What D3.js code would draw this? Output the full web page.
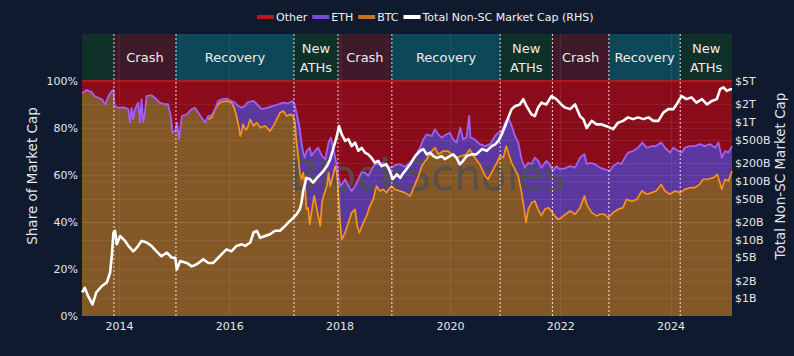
<!DOCTYPE html>
<html><head><meta charset="utf-8">
<script src="https://cdn.jsdelivr.net/npm/d3@7"></script>
<style>
html,body{margin:0;padding:0;background:#0f1a2e;}
svg{display:block;font-family:"DejaVu Sans",Verdana,sans-serif;}
</style></head><body>
<svg id="chart" width="794" height="356"></svg>
<script>
// ---------------- DATA ----------------
// BTC share of non-stablecoin market cap (%), decimal years
const btcYears = [2013.33,2013.41,2013.50,2013.57,2013.63,2013.69,2013.75,2013.81,2013.87,2013.90,2013.92,2013.99,2014.08,2014.17,2014.20,2014.23,2014.26,2014.29,2014.35,2014.38,2014.41,2014.44,2014.47,2014.50,2014.59,2014.65,2014.74,2014.83,2014.89,2014.94,2014.97,2015.02,2015.05,2015.09,2015.14,2015.23,2015.32,2015.38,2015.44,2015.50,2015.56,2015.62,2015.68,2015.74,2015.80,2015.86,2015.95,2016.04,2016.09,2016.13,2016.17,2016.20,2016.22,2016.25,2016.29,2016.32,2016.38,2016.44,2016.50,2016.56,2016.65,2016.74,2016.80,2016.86,2016.92,2016.98,2017.04,2017.10,2017.16,2017.19,2017.22,2017.25,2017.28,2017.31,2017.34,2017.37,2017.40,2017.43,2017.46,2017.49,2017.54,2017.59,2017.65,2017.68,2017.71,2017.77,2017.80,2017.83,2017.88,2017.92,2017.95,2017.98,2018.01,2018.04,2018.10,2018.16,2018.22,2018.28,2018.32,2018.36,2018.43,2018.49,2018.55,2018.61,2018.67,2018.73,2018.79,2018.85,2018.94,2019.00,2019.09,2019.18,2019.28,2019.37,2019.43,2019.49,2019.58,2019.67,2019.73,2019.79,2019.88,2019.97,2020.03,2020.12,2020.21,2020.30,2020.36,2020.45,2020.54,2020.64,2020.69,2020.79,2020.85,2020.91,2020.97,2021.02,2021.06,2021.12,2021.18,2021.24,2021.30,2021.34,2021.38,2021.42,2021.48,2021.54,2021.60,2021.66,2021.72,2021.78,2021.84,2021.90,2021.96,2022.02,2022.08,2022.18,2022.27,2022.36,2022.44,2022.48,2022.57,2022.66,2022.72,2022.80,2022.87,2022.96,2023.05,2023.14,2023.20,2023.30,2023.39,2023.48,2023.57,2023.66,2023.74,2023.83,2023.90,2023.99,2024.08,2024.17,2024.26,2024.35,2024.44,2024.53,2024.59,2024.68,2024.78,2024.85,2024.93,2024.99,2025.05,2025.115];
const btcShare = [94.8,96.2,95.4,93.3,92.9,92.2,90.1,93.6,95.7,96.2,89.4,88.6,88.8,88.0,82.3,88.6,83.7,88.0,90.8,82.3,92.2,82.3,86.5,93.6,94.0,92.9,90.8,90.1,90.1,85.1,78.0,78.7,82.3,75.2,85.1,85.8,88.0,88.6,86.5,84.4,82.3,83.7,84.4,87.7,90.1,91.1,91.5,90.8,88.6,85.1,80.9,76.6,78.0,81.6,79.4,79.4,83.7,80.9,82.3,80.1,80.9,78.7,80.9,83.7,86.5,87.2,85.1,85.8,85.1,82.3,73.8,68.1,61.0,58.2,61.0,56.7,45.4,46.0,39.0,44.0,51.1,45.4,38.3,48.2,51.1,55.3,61.0,55.3,59.6,63.8,61.0,51.1,39.7,32.6,35.4,39.7,44.0,45.4,38.3,35.4,39.7,42.6,46.8,49.6,55.3,53.2,53.9,52.5,55.3,53.9,53.2,52.5,51.1,56.0,59.6,63.8,66.7,70.2,71.6,68.8,70.2,70.2,68.8,67.4,68.1,68.8,70.9,67.4,64.6,59.6,58.2,62.4,65.2,68.1,67.4,72.3,69.5,65.2,62.4,59.6,52.5,46.8,39.7,45.4,48.2,48.9,45.4,42.6,45.4,46.1,44.7,42.6,41.1,41.8,43.0,44.7,43.3,46.1,51.1,47.5,44.0,42.6,43.3,43.3,41.8,44.0,45.4,46.1,49.6,48.9,49.6,53.2,51.8,52.5,53.2,56.0,53.2,51.8,53.2,52.5,53.9,54.6,54.6,56.0,58.2,58.2,58.9,60.3,53.9,58.2,57.4,61.7];

// BTC + ETH share (%), from ETH launch onwards
const topYears = [2015.62,2015.68,2015.74,2015.80,2015.86,2015.95,2016.04,2016.10,2016.16,2016.22,2016.29,2016.32,2016.44,2016.53,2016.59,2016.68,2016.80,2016.89,2016.98,2017.07,2017.15,2017.19,2017.23,2017.27,2017.31,2017.34,2017.37,2017.40,2017.46,2017.49,2017.55,2017.61,2017.68,2017.74,2017.80,2017.84,2017.89,2017.94,2017.98,2018.01,2018.04,2018.10,2018.16,2018.22,2018.28,2018.34,2018.40,2018.46,2018.52,2018.58,2018.64,2018.73,2018.79,2018.85,2018.94,2019.00,2019.09,2019.18,2019.28,2019.37,2019.46,2019.52,2019.58,2019.67,2019.73,2019.79,2019.85,2019.94,2020.00,2020.06,2020.12,2020.19,2020.24,2020.30,2020.35,2020.37,2020.45,2020.54,2020.64,2020.73,2020.82,2020.88,2020.94,2021.00,2021.06,2021.12,2021.18,2021.24,2021.30,2021.36,2021.42,2021.48,2021.54,2021.60,2021.66,2021.75,2021.81,2021.87,2021.93,2021.99,2022.08,2022.18,2022.27,2022.36,2022.44,2022.48,2022.54,2022.63,2022.72,2022.81,2022.90,2022.96,2023.05,2023.11,2023.17,2023.23,2023.32,2023.41,2023.49,2023.57,2023.66,2023.74,2023.83,2023.90,2023.99,2024.05,2024.14,2024.20,2024.26,2024.35,2024.44,2024.53,2024.62,2024.72,2024.81,2024.87,2024.93,2024.99,2025.05,2025.115];
const btcEthShare = [85.1,85.4,88.0,91.5,92.2,92.5,91.5,90.8,89.4,88.6,89.4,90.8,91.5,89.4,88.0,88.6,89.4,90.1,90.8,90.5,91.5,89.4,85.1,80.9,73.8,69.5,67.4,70.2,71.6,68.1,70.2,71.6,68.1,66.7,73.8,75.9,70.9,65.2,58.9,55.3,56.0,58.2,55.3,53.2,55.3,58.2,61.0,61.0,59.6,62.4,64.6,64.6,65.2,63.8,63.1,64.1,64.6,63.5,65.2,68.1,71.6,75.2,77.3,76.6,79.4,77.3,75.9,77.3,78.0,75.2,73.8,80.1,75.2,75.9,85.1,76.0,75.2,73.1,72.3,73.1,76.6,78.0,78.7,82.3,84.4,80.9,76.6,73.8,66.7,63.1,65.2,64.6,67.4,66.0,63.1,66.0,64.6,61.7,63.8,62.4,62.8,63.8,63.1,67.4,68.8,64.6,65.2,64.6,63.1,62.4,61.7,63.8,65.2,64.6,67.4,69.5,70.2,71.6,73.8,71.6,72.3,72.3,73.8,71.6,69.5,71.6,70.2,69.5,71.6,72.3,72.3,73.1,72.3,73.1,71.6,73.8,67.4,70.2,69.5,72.3];

// Total non-stablecoin market cap ($ billions)
const capYears = [2013.33,2013.38,2013.44,2013.52,2013.59,2013.69,2013.78,2013.84,2013.87,2013.90,2013.93,2013.96,2014.02,2014.11,2014.17,2014.26,2014.32,2014.41,2014.50,2014.59,2014.68,2014.77,2014.87,2014.96,2015.02,2015.05,2015.11,2015.23,2015.32,2015.41,2015.53,2015.62,2015.71,2015.80,2015.89,2015.95,2016.04,2016.13,2016.23,2016.29,2016.38,2016.44,2016.50,2016.56,2016.65,2016.74,2016.83,2016.92,2017.01,2017.07,2017.16,2017.22,2017.28,2017.31,2017.34,2017.37,2017.40,2017.46,2017.52,2017.59,2017.65,2017.71,2017.77,2017.83,2017.89,2017.95,2017.99,2018.04,2018.10,2018.16,2018.22,2018.28,2018.34,2018.40,2018.46,2018.52,2018.58,2018.64,2018.70,2018.76,2018.85,2018.91,2018.96,2019.04,2019.10,2019.16,2019.19,2019.28,2019.37,2019.46,2019.52,2019.58,2019.64,2019.70,2019.76,2019.85,2019.91,2020.00,2020.06,2020.12,2020.18,2020.24,2020.30,2020.39,2020.48,2020.58,2020.67,2020.76,2020.82,2020.88,2020.94,2021.00,2021.06,2021.12,2021.18,2021.27,2021.33,2021.39,2021.48,2021.54,2021.60,2021.66,2021.75,2021.84,2021.93,2022.02,2022.08,2022.18,2022.27,2022.36,2022.42,2022.48,2022.57,2022.66,2022.75,2022.84,2022.96,2023.05,2023.14,2023.23,2023.32,2023.41,2023.51,2023.60,2023.69,2023.78,2023.87,2023.96,2024.05,2024.11,2024.20,2024.29,2024.38,2024.47,2024.57,2024.66,2024.75,2024.84,2024.90,2024.96,2025.02,2025.09,2025.115];
const capBillions = [1.26,1.51,1.10,0.79,1.26,1.62,1.86,2.75,5.2,13.2,14.1,8.3,11.5,9.5,7.8,6.3,7.2,9.5,8.9,7.8,6.3,5.2,6.0,4.9,4.9,3.1,4.3,4.0,3.5,3.8,4.6,4.0,4.0,4.9,6.0,6.8,6.3,7.8,8.3,7.8,8.9,13.2,14.1,10.7,11.5,12.3,14.1,14.1,17.0,19.5,23.4,26.9,33.1,42.7,67.6,87.1,112,107,93,112,129,148,178,234,363,575,851,617,479,513,389,447,324,363,302,282,245,204,219,178,191,148,107,129,112,138,148,191,263,324,347,282,302,263,245,263,234,263,282,245,191,219,263,282,282,347,324,389,417,479,617,851,1202,1660,1862,1995,2455,1862,1349,1259,1778,2138,1995,2754,2455,1995,1778,1660,1995,1259,1122,794,1047,912,912,851,759,977,1047,1202,1122,1202,1122,1202,1047,1047,1445,1660,1660,1995,2754,2455,2630,2138,2455,1995,2291,2455,3631,3890,3388,3631,3600];

// Market phases
const phaseBounds = [2013.33,2013.909,2015.034,2017.173,2017.971,2018.948,2020.912,2021.859,2022.883,2024.176,2025.115];
const phaseLabels = ["","Crash","Recovery","New ATHs","Crash","Recovery","New ATHs","Crash","Recovery","New ATHs"];
const phaseKinds  = ["ath","crash","recovery","ath","crash","recovery","ath","crash","recovery","ath"];

// Axis ticks
const yearTicks = [2014,2016,2018,2020,2022,2024];
const shareTicks = [0,20,40,60,80,100];
const capTicks = [1,2,5,10,20,50,100,200,500,1000,2000,5000];
const capTickLabels = ["$1B","$2B","$5B","$10B","$20B","$50B","$100B","$200B","$500B","$1T","$2T","$5T"];

const legendLabels = ["Other","ETH","BTC","Total Non-SC Market Cap (RHS)"];

// ---------------- DRAW ----------------
const svg = d3.select("#chart");
const L = 82, R = 732, T = 34, B = 316, P100 = 81;
svg.append("rect").attr("width",794).attr("height",356).attr("fill","#0f1a2e");

const x = d3.scaleLinear().domain([2013.33, 2025.115]).range([L, R]);
const yS = d3.scaleLinear().domain([0, 120]).range([B, T]);
const yC = d3.scaleLog().domain([0.5, 5000]).range([B, P100]);

const kindColor = {ath:"#10302a", crash:"#3f1a2a", recovery:"#0e4858"};
const phases = phaseLabels.map((lab,i)=>({label:lab, kind:phaseKinds[i], x0:phaseBounds[i], x1:phaseBounds[i+1]}));

// bands
svg.append("g").selectAll("rect").data(phases).join("rect")
  .attr("x", d=>x(d.x0)).attr("width", d=>x(d.x1)-x(d.x0))
  .attr("y", yS(120)).attr("height", yS(100)-yS(120))
  .attr("fill", d=>kindColor[d.kind]);

// series
const btcSeries = btcYears.map((t,i)=>({t, v:btcShare[i]}));
const ethTopSeries = topYears.map((t,i)=>({t, v:btcEthShare[i]}));
const topSeries = btcSeries.filter(d=>d.t < topYears[0]).concat(ethTopSeries);
const btcEra = btcSeries.filter(d=>d.t >= topYears[0]-0.001);
const capSeries = capYears.map((t,i)=>({t, v:capBillions[i]}));

// Other (full 0-100 base)
svg.append("rect").attr("x", x(2013.33)).attr("width", x(2025.115)-x(2013.33))
  .attr("y", yS(100)).attr("height", yS(0)-yS(100)).attr("fill","#8a0c1b");

const area = d3.area().x(d=>x(d.t)).y0(yS(0)).y1(d=>yS(d.v));
svg.append("path").datum(topSeries).attr("d", area).attr("fill","#5b389f");
svg.append("path").datum(btcSeries).attr("d", area).attr("fill","#845727");

// grid
const grid = svg.append("g").attr("stroke","#ffffff").attr("stroke-opacity",0.07).attr("stroke-width",1);
grid.selectAll(".gs").data(shareTicks.slice(1,5)).join("line").attr("class","gs")
  .attr("x1",L).attr("x2",R).attr("y1",d=>Math.round(yS(d))+0.5).attr("y2",d=>Math.round(yS(d))+0.5);
grid.selectAll(".gc").data(capTicks.slice(0,11)).join("line").attr("class","gc")
  .attr("x1",L).attr("x2",R).attr("y1",d=>Math.round(yC(d))+0.5).attr("y2",d=>Math.round(yC(d))+0.5);
grid.selectAll(".gx").data(yearTicks).join("line").attr("class","gx")
  .attr("y1",T).attr("y2",B).attr("x1",d=>Math.round(x(d))+0.5).attr("x2",d=>Math.round(x(d))+0.5);

// watermark
svg.append("text").attr("x", 428).attr("y", 190).attr("text-anchor","middle")
  .attr("font-size", 42).attr("textLength", 276).attr("lengthAdjust","spacingAndGlyphs")
  .attr("fill","#505050").attr("fill-opacity",0.85).text("BlockScholes");

// lines
const line = d3.line().x(d=>x(d.t)).y(d=>yS(d.v));
svg.append("line").attr("x1",L).attr("x2",R).attr("y1",yS(100)).attr("y2",yS(100))
  .attr("stroke","#d8131f").attr("stroke-width",1.5);
svg.append("path").datum(btcEra).attr("d", line).attr("fill","none")
  .attr("stroke","#f7931a").attr("stroke-width",1.7).attr("stroke-linejoin","round");
svg.append("path").datum(topSeries).attr("d", line).attr("fill","none")
  .attr("stroke","#a45ff3").attr("stroke-width",1.8).attr("stroke-linejoin","round");
const capLine = d3.line().x(d=>x(d.t)).y(d=>yC(d.v));
svg.append("path").datum(capSeries).attr("d", capLine).attr("fill","none")
  .attr("stroke","#ffffff").attr("stroke-width",2.6).attr("stroke-linejoin","round");

// dotted phase separators
svg.append("g").selectAll("line").data(phaseBounds.slice(1,-1)).join("line")
  .attr("x1",d=>x(d)).attr("x2",d=>x(d)).attr("y1",T).attr("y2",B)
  .attr("stroke","#ffffff").attr("stroke-opacity",0.85).attr("stroke-width",1)
  .attr("stroke-dasharray","2,2");

// phase labels
const lab = svg.append("g").attr("fill","#ececec").attr("font-size",13).attr("text-anchor","middle");
phases.forEach(p=>{
  if(!p.label) return;
  const cx = (x(p.x0)+x(p.x1))/2;
  if(p.label === "New ATHs"){
    lab.append("text").attr("x",cx).attr("y",53).text("New");
    lab.append("text").attr("x",cx).attr("y",72).text("ATHs");
  } else {
    lab.append("text").attr("x",cx).attr("y",62).text(p.label);
  }
});

// axes
const txtColor = "#e4e6ea";
const axL = svg.append("g").attr("transform",`translate(${L},0)`)
  .call(d3.axisLeft(yS).tickValues(shareTicks).tickSize(0).tickPadding(4).tickFormat(d=>d+"%"));
const axR = svg.append("g").attr("transform",`translate(${R},0)`)
  .call(d3.axisRight(yC).tickValues(capTicks).tickSize(0).tickPadding(3).tickFormat((d,i)=>capTickLabels[i]));
const axB = svg.append("g").attr("transform",`translate(0,${B})`)
  .call(d3.axisBottom(x).tickValues(yearTicks).tickSize(0).tickPadding(6).tickFormat(d3.format("d")));
[axL,axR,axB].forEach(a=>{
  a.select(".domain").remove();
  a.selectAll("text").attr("fill",txtColor).attr("font-size",11).attr("font-family","DejaVu Sans, Verdana, sans-serif");
});

// axis titles
svg.append("text").attr("transform","translate(37,176) rotate(-90)").attr("text-anchor","middle")
  .attr("fill",txtColor).attr("font-size",13.5).text("Share of Market Cap");
svg.append("text").attr("transform","translate(785,176) rotate(-90)").attr("text-anchor","middle")
  .attr("fill",txtColor).attr("font-size",13.5).text("Total Non-SC Market Cap");

// legend
const legColors = ["#c8101e","#8046d8","#c07424","#ffffff"];
const leg = svg.append("g").attr("transform","translate(257,17)");
let lx = 0;
legendLabels.forEach((t,i)=>{
  leg.append("rect").attr("x",lx).attr("y",-2).attr("width",17).attr("height",4).attr("fill",legColors[i]);
  const tx = leg.append("text").attr("x",lx+19).attr("y",0).attr("dy","0.35em")
    .attr("fill","#f2f2f2").attr("font-size",11).text(t);
  lx += 19 + tx.node().getComputedTextLength() + 5;
});
</script>
</body></html>
